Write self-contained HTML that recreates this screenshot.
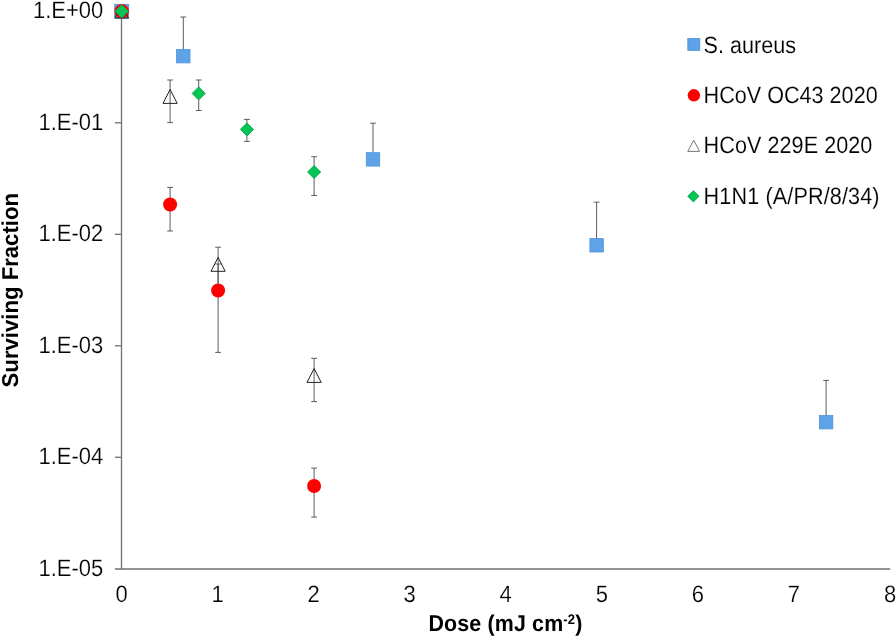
<!DOCTYPE html>
<html lang="en"><head><meta charset="utf-8"><title>Surviving Fraction vs Dose</title>
<style>
html,body{margin:0;padding:0;background:#fff;}
body{width:896px;height:637px;overflow:hidden;}
svg{display:block;}
text{font-family:"Liberation Sans",Arial,sans-serif;fill:#000;text-rendering:geometricPrecision;}
.tick{font-size:22px;stroke:#fff;stroke-width:0.18px;}
.leg{font-size:21.6px;stroke:#fff;stroke-width:0.12px;}
.ttl{font-size:21.4px;font-weight:bold;}
.ax{stroke:#707070;stroke-width:1.3;fill:none;}
.eb{stroke:#545454;stroke-width:0.95;fill:none;}
</style></head><body>
<svg width="896" height="637" viewBox="0 0 896 637">
<rect width="896" height="637" fill="#fff"/>

<line class="ax" x1="121.5" y1="11.3" x2="121.5" y2="569.6"/>
<line class="ax" x1="114.9" y1="569" x2="890.3" y2="569"/>
<line class="ax" x1="114.9" y1="11.3" x2="121.5" y2="11.3"/>
<text class="tick" transform="translate(103.3,18.2) scale(1,1.08)" text-anchor="end">1.E+00</text>
<line class="ax" x1="114.9" y1="122.8" x2="121.5" y2="122.8"/>
<text class="tick" transform="translate(103.3,129.7) scale(1,1.08)" text-anchor="end">1.E-01</text>
<line class="ax" x1="114.9" y1="234.3" x2="121.5" y2="234.3"/>
<text class="tick" transform="translate(103.3,241.2) scale(1,1.08)" text-anchor="end">1.E-02</text>
<line class="ax" x1="114.9" y1="345.8" x2="121.5" y2="345.8"/>
<text class="tick" transform="translate(103.3,352.7) scale(1,1.08)" text-anchor="end">1.E-03</text>
<line class="ax" x1="114.9" y1="457.3" x2="121.5" y2="457.3"/>
<text class="tick" transform="translate(103.3,464.2) scale(1,1.08)" text-anchor="end">1.E-04</text>
<text class="tick" transform="translate(103.3,575.7) scale(1,1.08)" text-anchor="end">1.E-05</text>
<text class="tick" transform="translate(121.5,602.0) scale(1,1.08)" text-anchor="middle">0</text>
<text class="tick" transform="translate(217.6,602.0) scale(1,1.08)" text-anchor="middle">1</text>
<text class="tick" transform="translate(313.6,602.0) scale(1,1.08)" text-anchor="middle">2</text>
<text class="tick" transform="translate(409.7,602.0) scale(1,1.08)" text-anchor="middle">3</text>
<text class="tick" transform="translate(505.7,602.0) scale(1,1.08)" text-anchor="middle">4</text>
<text class="tick" transform="translate(601.8,602.0) scale(1,1.08)" text-anchor="middle">5</text>
<text class="tick" transform="translate(697.9,602.0) scale(1,1.08)" text-anchor="middle">6</text>
<text class="tick" transform="translate(793.9,602.0) scale(1,1.08)" text-anchor="middle">7</text>
<text class="tick" transform="translate(890.0,602.0) scale(1,1.08)" text-anchor="middle">8</text>
<text class="ttl" transform="translate(428.4,630.7) scale(1,1.07)" letter-spacing="0.16">Dose (mJ cm<tspan font-size="13" dy="-5.8">-2</tspan><tspan dy="5.8">)</tspan></text>
<text class="ttl" transform="translate(18.0,387.4) rotate(-90) scale(1,1.07)" textLength="194.4" lengthAdjust="spacingAndGlyphs">Surviving Fraction</text>
<path class="eb" d="M183.3 17.0V56.2M180.4 17.0H186.2"/>
<path class="eb" d="M373.0 123.2V159.4M370.1 123.2H375.9"/>
<path class="eb" d="M596.6 202.2V245.3M593.7 202.2H599.5"/>
<path class="eb" d="M826.1 380.4V422.2M823.2 380.4H829.0"/>
<rect x="176.60" y="49.50" width="13.4" height="13.4" fill="#5ea3e8" stroke="#4d92db" stroke-width="0.8"/>
<rect x="366.30" y="152.70" width="13.4" height="13.4" fill="#5ea3e8" stroke="#4d92db" stroke-width="0.8"/>
<rect x="589.90" y="238.60" width="13.4" height="13.4" fill="#5ea3e8" stroke="#4d92db" stroke-width="0.8"/>
<rect x="819.40" y="415.50" width="13.4" height="13.4" fill="#5ea3e8" stroke="#4d92db" stroke-width="0.8"/>
<path class="eb" d="M170.1 187.4V231.0M167.2 187.4H173.0M167.2 231.0H173.0"/>
<path class="eb" d="M218.1 264.0V352.4M215.2 264.0H221.0M215.2 352.4H221.0"/>
<path class="eb" d="M314.1 468.1V517.1M311.2 468.1H317.0M311.2 517.1H317.0"/>
<circle cx="170.1" cy="204.5" r="7.0" fill="#ff0000"/>
<circle cx="218.1" cy="290.5" r="7.0" fill="#ff0000"/>
<circle cx="314.1" cy="486.0" r="7.0" fill="#ff0000"/>
<path class="eb" d="M170.1 80.0V122.6M167.2 80.0H173.0M167.2 122.6H173.0"/>
<path class="eb" d="M218.1 247.2V285.0M215.2 247.2H221.0"/>
<path class="eb" d="M314.1 358.3V401.6M311.2 358.3H317.0M311.2 401.6H317.0"/>
<path d="M170.1 89.5L177.2 103.4H163.0Z" fill="none" stroke="#222" stroke-width="1.0" stroke-linejoin="miter"/>
<path d="M218.1 257.4L225.2 271.3H211.0Z" fill="none" stroke="#222" stroke-width="1.0" stroke-linejoin="miter"/>
<path d="M314.1 368.5L321.2 382.4H307.0Z" fill="none" stroke="#222" stroke-width="1.0" stroke-linejoin="miter"/>
<path class="eb" d="M198.7 80.0V110.5M195.8 80.0H201.6M195.8 110.5H201.6"/>
<path class="eb" d="M246.9 119.4V141.4M244.0 119.4H249.8M244.0 141.4H249.8"/>
<path class="eb" d="M314.1 156.7V195.5M311.2 156.7H317.0M311.2 195.5H317.0"/>
<path d="M198.7 86.9L205.2 93.4L198.7 99.9L192.2 93.4Z" fill="#06c555" stroke="#0aa94b" stroke-width="1" stroke-linejoin="miter"/>
<path d="M246.9 122.9L253.4 129.4L246.9 135.9L240.4 129.4Z" fill="#06c555" stroke="#0aa94b" stroke-width="1" stroke-linejoin="miter"/>
<path d="M314.1 165.5L320.6 172.0L314.1 178.5L307.6 172.0Z" fill="#06c555" stroke="#0aa94b" stroke-width="1" stroke-linejoin="miter"/>
<rect x="114.70" y="4.30" width="14.0" height="14.0" fill="#5ea3e8" stroke="#4d92db" stroke-width="0.8"/>
<circle cx="121.7" cy="11.3" r="7.2" fill="#ff0000"/>
<path d="M121.7 5.0L128.4 18.0H115.0Z" fill="none" stroke="#222" stroke-width="1.0" stroke-linejoin="miter"/>
<path d="M121.7 4.6L128.4 11.3L121.7 18.0L115.0 11.3Z" fill="#06c555" stroke="#0aa94b" stroke-width="1" stroke-linejoin="miter"/>
<rect x="687.80" y="38.50" width="12.0" height="12.0" fill="#5ea3e8" stroke="#4d92db" stroke-width="0.8"/>
<text class="leg" transform="translate(703.6,52.5) scale(1,1.09)">S. aureus</text>
<circle cx="693.9" cy="95.3" r="6.2" fill="#ff0000"/>
<text class="leg" transform="translate(703.6,102.9) scale(1,1.09)">HCoV OC43 2020</text>
<path d="M693.7 140.2L699.6 151.4H687.8Z" fill="none" stroke="#666" stroke-width="0.9" stroke-linejoin="miter"/>
<text class="leg" transform="translate(703.6,153.2) scale(1,1.09)" letter-spacing="0.05">HCoV 229E 2020</text>
<path d="M693.4 190.7L699.0 196.3L693.4 201.9L687.8 196.3Z" fill="#06c555" stroke="#0aa94b" stroke-width="1" stroke-linejoin="miter"/>
<text class="leg" transform="translate(703.6,203.6) scale(1,1.09)" letter-spacing="0.13">H1N1 (A/PR/8/34)</text>
</svg>
</body></html>
